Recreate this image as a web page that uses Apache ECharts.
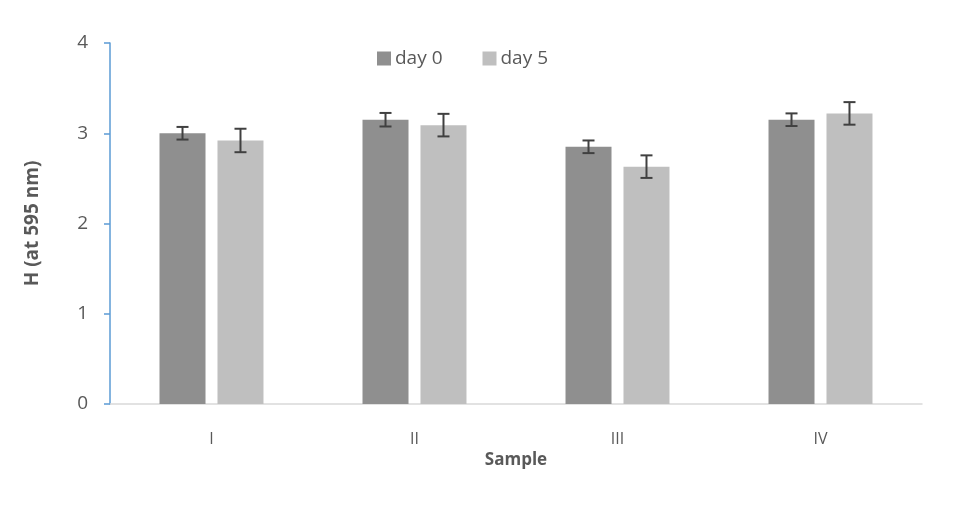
<!DOCTYPE html>
<html><head><meta charset="utf-8">
<script src="https://cdn.jsdelivr.net/npm/echarts@6/dist/echarts.min.js"></script>
<style>html,body{margin:0;padding:0;background:#fff}#c{width:968px;height:531px}</style>
</head><body><div id="c"></div>
<script>
const categories = ['I', 'II', 'III', 'IV'];
const seriesNames = ['day 0', 'day 5'];
const day0 = [3.00, 3.15, 2.85, 3.15];
const day5 = [2.92, 3.09, 2.63, 3.22];
const err0 = [0.07, 0.075, 0.07, 0.07];
const err5 = [0.13, 0.125, 0.125, 0.125];
const yTicks = [0, 1, 2, 3, 4];

const FONT = '"Open Sans", sans-serif';
const TXT = '#595959';
const BW = 0.2266, GAP = 0.059;

function errRender(vals, errs, sign) {
  return function (params, api) {
    const i = api.value(0);
    const band = api.size([1, 0])[0];
    const off = sign * (band * BW + band * GAP) / 2;
    const c = api.coord([i, vals[i]]);
    const x = c[0] + off;
    const yt = api.coord([i, vals[i] + errs[i]])[1];
    const yb = api.coord([i, vals[i] - errs[i]])[1];
    const cap = 6;
    const st = { stroke: '#404040', lineWidth: 2 };
    return {
      type: 'group',
      children: [
        { type: 'line', shape: { x1: x, y1: yt, x2: x, y2: yb }, style: st },
        { type: 'line', shape: { x1: x - cap, y1: yt, x2: x + cap, y2: yt }, style: st },
        { type: 'line', shape: { x1: x - cap, y1: yb, x2: x + cap, y2: yb }, style: st }
      ]
    };
  };
}

const chart = echarts.init(document.getElementById('c'), null, { renderer: 'canvas' });
chart.setOption({
  animation: false,
  textStyle: { fontFamily: FONT },
  grid: { left: 110, right: 46, top: 43, bottom: 127 },
  legend: {
    data: seriesNames,
    left: 372, top: 44,
    itemWidth: 14, itemHeight: 14, itemGap: 40,
    icon: 'rect',
    textStyle: { fontSize: 19, color: TXT, fontFamily: FONT, padding: [0, 0, 0, -1] }
  },
  xAxis: {
    type: 'category',
    data: categories,
    axisLine: { lineStyle: { color: '#d9d9d9', width: 1.5 } },
    axisTick: { show: false },
    axisLabel: { fontSize: 16, color: TXT, margin: 27 },
    name: 'Sample',
    nameLocation: 'middle',
    nameGap: 48,
    nameTextStyle: { fontSize: 17, fontWeight: 'bold', color: TXT }
  },
  yAxis: {
    type: 'value',
    min: yTicks[0], max: yTicks[yTicks.length - 1], interval: 1,
    axisLine: { show: true, lineStyle: { color: '#5b9bd5', width: 1.5 } },
    axisTick: { show: true, length: 6, lineStyle: { color: '#5b9bd5', width: 1.5 } },
    splitLine: { show: false },
    axisLabel: { fontSize: 19, color: TXT, margin: 22 },
    name: 'H (at 595 nm)',
    nameLocation: 'middle',
    nameRotate: 90,
    nameGap: 68,
    nameTextStyle: { fontSize: 19, fontWeight: 'bold', color: TXT }
  },
  series: [
    { name: seriesNames[0], type: 'bar', data: day0, barWidth: (BW * 100) + '%', barGap: (GAP / BW * 100) + '%',
      itemStyle: { color: '#8f8f8f' } },
    { name: seriesNames[1], type: 'bar', data: day5, barWidth: (BW * 100) + '%',
      itemStyle: { color: '#bfbfbf' } },
    { type: 'custom', data: categories.map((c, i) => [i]), renderItem: errRender(day0, err0, -1), z: 10 },
    { type: 'custom', data: categories.map((c, i) => [i]), renderItem: errRender(day5, err5, 1), z: 10 }
  ]
});
</script></body></html>
